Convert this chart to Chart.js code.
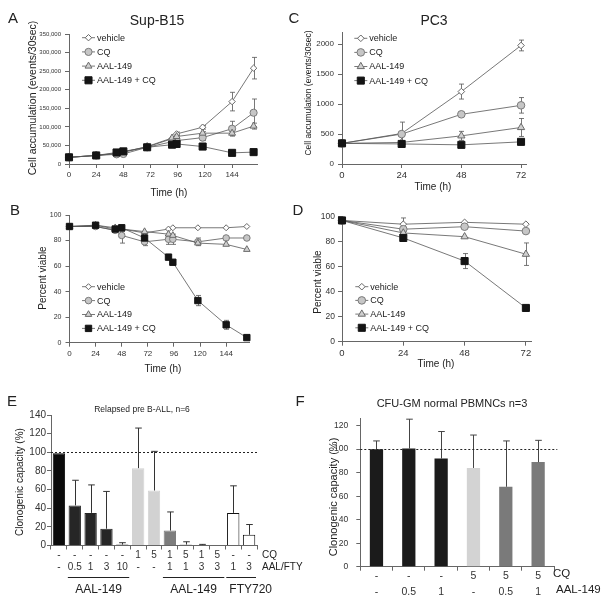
<!DOCTYPE html>
<html>
<head>
<meta charset="utf-8">
<script src="https://cdn.jsdelivr.net/npm/chart.js@4.4.1/dist/chart.umd.min.js"></script>
<style>
  html, body { margin: 0; padding: 0; background: #fff; }
  #page { position: relative; width: 612px; height: 604px; overflow: hidden;
          font-family: "Liberation Sans", Arial, sans-serif; color: #222; }
  #page canvas { position: absolute; left: 0; top: 0; }
  .t { position: absolute; white-space: nowrap; line-height: 1; transform: translate(-50%, -50%); }
  .v { transform: translate(-50%, -50%) rotate(-90deg); }
  .l { transform: translate(0, -50%); }
</style>
</head>
<body>
<div id="page">
  <canvas id="chartA" width="612" height="604"></canvas>
  <canvas id="chartB" width="612" height="604"></canvas>
  <canvas id="chartC" width="612" height="604"></canvas>
  <canvas id="chartD" width="612" height="604"></canvas>
  <canvas id="chartE" width="612" height="604"></canvas>
  <canvas id="chartF" width="612" height="604"></canvas>

  <div class="t" style="left:13px;top:17px;font-size:15px">A</div>
  <div class="t" style="left:157px;top:20px;font-size:14px">Sup-B15</div>
  <div class="t v" style="left:32px;top:98px;font-size:10.5px">Cell accumulation (events/30sec)</div>
  <div class="t" style="left:169px;top:193px;font-size:10px">Time (h)</div>

  <div class="t" style="left:294px;top:17px;font-size:15px">C</div>
  <div class="t" style="left:434px;top:20px;font-size:14px">PC3</div>
  <div class="t v" style="left:308px;top:93px;font-size:8.5px">Cell accumulation (events/30sec)</div>
  <div class="t" style="left:433px;top:187px;font-size:10px">Time (h)</div>

  <div class="t" style="left:15px;top:209px;font-size:15px">B</div>
  <div class="t v" style="left:43px;top:278px;font-size:10px">Percent viable</div>
  <div class="t" style="left:163px;top:369px;font-size:10px">Time (h)</div>

  <div class="t" style="left:298px;top:209px;font-size:15px">D</div>
  <div class="t v" style="left:318px;top:282px;font-size:10px">Percent viable</div>
  <div class="t" style="left:436px;top:364px;font-size:10px">Time (h)</div>

  <div class="t" style="left:12px;top:400px;font-size:15px">E</div>
  <div class="t" style="left:142px;top:409px;font-size:8.5px">Relapsed pre B-ALL, n=6</div>
  <div class="t v" style="left:20px;top:482px;font-size:10px">Clonogenic capacity (%)</div>
  <div class="t l" style="left:262px;top:555px;font-size:10px">CQ</div>
  <div class="t l" style="left:262px;top:567px;font-size:10px">AAL/FTY</div>

  <div class="t" style="left:300px;top:400px;font-size:15px">F</div>
  <div class="t" style="left:452px;top:403px;font-size:11px">CFU-GM normal PBMNCs n=3</div>
  <div class="t v" style="left:333px;top:497px;font-size:11px">Clonogenic capacity (%)</div>
  <div class="t l" style="left:553px;top:574px;font-size:11.5px">CQ</div>
  <div class="t l" style="left:556px;top:590px;font-size:11.5px">AAL-149</div>
</div>

<script>
// ---- data ----
const seriesNames = ["vehicle", "CQ", "AAL-149", "AAL-149 + CQ"];

// tick labels
const timeTicksAB = [0, 24, 48, 72, 96, 120, 144];
const timeTicksCD = [0, 24, 48, 72];
const cellTicksA = [0, 50000, 100000, 150000, 200000, 250000, 300000, 350000];
const cellTicksC = [0, 500, 1000, 1500, 2000];
const viableTicks = [0, 20, 40, 60, 80, 100];
const capacityTicksE = [0, 20, 40, 60, 80, 100, 120, 140];
const capacityTicksF = [0, 20, 40, 60, 80, 100, 120];

// A / B: Sup-B15 time course (h)
const timesAB = [0, 24, 42, 48, 69, 91, 95, 118, 144, 163];
const vehicleA = [18000, 23000, 28000, 32000, 46000, 68000, 81000, 99000, 168000, 258000];
const cqA = [18000, 23000, 26000, 27000, 45000, 60000, 63000, 71000, 95000, 138000];
const aalA = [18000, 23000, 29000, 32000, 47000, 70000, 74000, 83000, 83000, 102000];
const comboA = [18000, 23000, 31000, 34000, 45000, 52000, 54000, 47000, 30000, 32000];
const vehicleAErr = [0, 0, 0, 0, 0, 4000, 5000, 5000, 25000, 29000];
const cqAErr = [0, 0, 0, 0, 0, 5000, 5000, 8000, 20000, 37000];
const aalAErr = [0, 0, 0, 0, 0, 4000, 4000, 4000, 6000, 8000];
const comboAErr = [0, 0, 0, 0, 0, 0, 0, 0, 0, 0];

const vehicleB = [91, 91, 88, 89, 86, 89, 90, 90, 90, 91];
const cqB = [91, 91, 88, 84, 79, 81, 81, 79, 82, 82];
const aalB = [91, 92, 90, 89, 87, 85, 84, 78, 77, 73];
const comboB = [91, 92, 89, 90, 82, 67, 63, 33, 14, 4];
const vehicleBErr = [0, 0, 0, 2, 0, 0, 0, 0, 0, 0];
const cqBErr = [0, 0, 0, 6, 3, 4, 4, 3, 0, 0];
const aalBErr = [0, 0, 0, 0, 0, 0, 0, 0, 0, 0];
const comboBErr = [0, 0, 0, 0, 0, 0, 0, 4, 3.5, 0];

// C / D: PC3 time course (h)
const timesCD = [0, 24, 48, 72];
const vehicleC = [345, 510, 1210, 1980];
const cqC = [345, 500, 830, 980];
const aalC = [345, 360, 470, 610];
const comboC = [345, 335, 320, 370];
const vehicleCErr = [0, 190, 125, 90];
const cqCErr = [0, 0, 0, 130];
const aalCErr = [0, 0, 75, 150];
const comboCErr = [0, 0, 0, 0];

const vehicleD = [97, 94, 95.5, 94];
const cqD = [97, 90, 92, 88.5];
const aalD = [97, 87, 84, 70];
const comboD = [97, 83, 64.5, 27];
const vehicleDErr = [0, 5, 0, 0];
const cqDErr = [0, 0, 0, 0];
const aalDErr = [0, 0, 0, 9];
const comboDErr = [0, 0, 6, 2];

// E: relapsed pre B-ALL colony assay
const cqDoseE = ["-", "-", "-", "-", "-", "1", "5", "1", "5", "1", "5", "-", "-"];
const drugDoseE = ["-", "0.5", "1", "3", "10", "-", "-", "1", "1", "3", "3", "1", "3"];
const capacityE = [99, 43, 35, 18, 1, 83, 59, 16, 1, 0.5, 0, 35, 11.5];
const capacityEErr = [0, 27, 30, 40, 2, 43, 42, 20, 3, 0.7, 0, 29, 11];
const groupLabelsE = ["AAL-149", "AAL-149", "FTY720"];
const groupStartE = [1, 7, 11];
const groupEndE = [4, 10, 12];

// F: CFU-GM normal PBMNCs
const cqDoseF = ["-", "-", "-", "5", "5", "5"];
const aalDoseF = ["-", "0.5", "1", "-", "0.5", "1"];
const capacityF = [100, 100.5, 92, 84, 68, 89];
const capacityFErr = [7, 25, 23, 28, 39, 18.5];

// ---- styles ----
const FONT = '"Liberation Sans", Arial, sans-serif';
const AXIS = "#666";
const TEXT = "#333";
const barColorsE = ["#0b0b0b", "#262626", "#262626", "#262626", "#262626", "#d2d2d2", "#d2d2d2",
  "#7d7d7d", "#7d7d7d", "#7d7d7d", "#7d7d7d", "#ffffff", "#ffffff"];
const barBordersE = barColorsE.map((c) => (c === "#ffffff" ? "#111" : c));
const barColorsF = ["#1b1b1b", "#1b1b1b", "#1b1b1b", "#d3d3d3", "#7a7a7a", "#7a7a7a"];

Chart.defaults.font.family = FONT;
Chart.defaults.color = TEXT;
Chart.defaults.animation = false;
Chart.defaults.responsive = false;
Chart.defaults.plugins.legend.display = false;
Chart.defaults.plugins.tooltip.enabled = false;

// Build padding so the plot area lands on the given page rectangle.
const Y_W = 40;
const X_H = 30;
function layoutFor(box) {
  return {
    padding: {
      left: box.left - Y_W,
      top: box.top,
      right: 612 - box.right,
      bottom: 604 - box.bottom - X_H,
    },
  };
}

function pts(times, vals) {
  return times.map((t, i) => ({ x: t, y: vals[i] }));
}

function fixedTicks(values) {
  return (s) => { s.ticks = values.map((v) => ({ value: v })); };
}

// error bars, drawn through the chart's own y scale
const errorBars = {
  id: "errorBars",
  beforeDatasetsDraw(chart, args, opts) {
    if (!opts.upOnly) drawErrors(chart, opts);
  },
  afterDatasetsDraw(chart, args, opts) {
    if (opts.upOnly) drawErrors(chart, opts);
  },
};
function drawErrors(chart, opts) {
  if (!opts.errors) return;
  const ctx = chart.ctx;
  const yScale = chart.scales.y;
  ctx.save();
  ctx.strokeStyle = opts.color || "#555";
  ctx.lineWidth = opts.width || 0.8;
  opts.errors.forEach((errs, di) => {
    const meta = chart.getDatasetMeta(di);
    const ds = chart.data.datasets[di];
    meta.data.forEach((el, i) => {
      const e = errs[i];
      if (!e) return;
      const raw = ds.data[i];
      const v = typeof raw === "object" ? raw.y : raw;
      const x = Math.round(el.x) + 0.5;
      const top = yScale.getPixelForValue(v + e);
      const bottom = opts.upOnly ? yScale.getPixelForValue(v) : yScale.getPixelForValue(v - e);
      const cap = opts.cap || 2.5;
      ctx.beginPath();
      ctx.moveTo(x, top);
      ctx.lineTo(x, bottom);
      ctx.moveTo(x - cap, top);
      ctx.lineTo(x + cap, top);
      if (!opts.upOnly) {
        ctx.moveTo(x - cap, bottom);
        ctx.lineTo(x + cap, bottom);
      }
      ctx.stroke();
    });
  });
  ctx.restore();
}

// legend drawn inside the plot: short line with the marker on it, then the name
const inlineLegend = {
  id: "inlineLegend",
  afterDraw(chart, args, opts) {
    if (!opts.x) return;
    const ctx = chart.ctx;
    ctx.save();
    seriesNames.forEach((name, i) => {
      const ds = chart.data.datasets[i];
      const y = opts.y + i * opts.gap;
      ctx.strokeStyle = ds.borderColor;
      ctx.lineWidth = 0.8;
      ctx.beginPath();
      ctx.moveTo(opts.x, y);
      ctx.lineTo(opts.x + 13, y);
      ctx.stroke();
      ctx.fillStyle = ds.pointBackgroundColor;
      ctx.strokeStyle = ds.pointBorderColor;
      ctx.lineWidth = 1;
      Chart.helpers.drawPoint(ctx, { pointStyle: ds.pointStyle, radius: ds.pointRadius, rotation: 0, borderWidth: 1 },
        opts.x + 6.5, y);
      ctx.fillStyle = "#222";
      ctx.font = "9px " + FONT;
      ctx.textBaseline = "middle";
      ctx.fillText(name, opts.x + 15, y + 0.5);
    });
    ctx.restore();
  },
};

// dotted 100% reference line
const refLine = {
  id: "refLine",
  afterDatasetsDraw(chart, args, opts) {
    if (opts.value === undefined) return;
    const ctx = chart.ctx;
    const y = Math.round(chart.scales.y.getPixelForValue(opts.value)) + 0.5;
    ctx.save();
    ctx.strokeStyle = "#222";
    ctx.lineWidth = 1;
    ctx.setLineDash([2, 2]);
    ctx.beginPath();
    ctx.moveTo(chart.chartArea.left, y);
    ctx.lineTo(chart.chartArea.right + (opts.extra || 0), y);
    ctx.stroke();
    ctx.restore();
  },
};

// underlines and names for groups of bars (panel E)
const groupLines = {
  id: "groupLines",
  afterDraw(chart, args, opts) {
    if (!opts.labels) return;
    const xs = chart.scales.x;
    const ctx = chart.ctx;
    const half = (xs.getPixelForValue(1) - xs.getPixelForValue(0)) / 2;
    ctx.save();
    ctx.strokeStyle = "#222";
    ctx.lineWidth = 1;
    ctx.fillStyle = "#222";
    ctx.font = "12px " + FONT;
    ctx.textBaseline = "middle";
    opts.labels.forEach((label, i) => {
      const x1 = xs.getPixelForValue(opts.start[i]) - half + 1;
      const x2 = xs.getPixelForValue(opts.end[i]) + half - 1;
      ctx.beginPath();
      ctx.moveTo(x1, opts.lineY + 0.5);
      ctx.lineTo(x2, opts.lineY + 0.5);
      ctx.stroke();
      if (i === opts.labels.length - 1) {
        ctx.textAlign = "left";
        ctx.fillText(label, x1 + 3, opts.textY);
      } else {
        ctx.textAlign = "center";
        ctx.fillText(label, (x1 + x2) / 2, opts.textY);
      }
    });
    ctx.restore();
  },
};

Chart.register(errorBars, inlineLegend, refLine, groupLines);

function lineSets(vals, radii) {
  const kinds = [
    { pointStyle: "rectRot", bg: "#ffffff", border: "#666" },
    { pointStyle: "circle", bg: "#c6c6c6", border: "#7a7a7a" },
    { pointStyle: "triangle", bg: "#d0d0d0", border: "#6a6a6a" },
    { pointStyle: "rect", bg: "#141414", border: "#141414" },
  ];
  return vals.map((data, i) => ({
    label: seriesNames[i],
    data: data,
    order: 3 - i,
    borderColor: "#555",
    borderWidth: 0.8,
    pointStyle: kinds[i].pointStyle,
    pointRadius: radii[i],
    pointBackgroundColor: kinds[i].bg,
    pointBorderColor: kinds[i].border,
    pointBorderWidth: 1,
    clip: false,
  }));
}

function axisGrid() {
  return { display: true, drawOnChartArea: false, drawTicks: true, tickLength: 4, color: AXIS };
}

function timeChart(id, box, times, series, errors, yOpts, xOpts, tickSize, legendPos, radii) {
  new Chart(document.getElementById(id), {
    type: "line",
    data: { datasets: lineSets(series.map((s) => pts(times, s)), radii) },
    options: {
      layout: layoutFor(box),
      scales: {
        x: {
          type: "linear",
          min: 0,
          max: xOpts.max,
          grid: axisGrid(),
          border: { color: AXIS, width: 1 },
          ticks: { font: { size: tickSize.x }, padding: 2, maxRotation: 0, autoSkip: false },
          afterBuildTicks: fixedTicks(xOpts.ticks),
          afterFit: (s) => { s.height = X_H; },
        },
        y: {
          min: 0,
          max: yOpts.max,
          grid: axisGrid(),
          border: { color: AXIS, width: 1 },
          ticks: {
            font: { size: tickSize.y },
            padding: yOpts.pad,
            autoSkip: false,
            callback: (v) => (yOpts.comma ? v.toLocaleString("en-US") : String(v)),
          },
          afterBuildTicks: fixedTicks(yOpts.ticks),
          afterFit: (s) => { s.width = Y_W; },
        },
      },
      plugins: {
        errorBars: { errors: errors, color: "#555", width: 0.8, cap: 2.5 },
        inlineLegend: legendPos,
      },
    },
  });
}

timeChart("chartA", { left: 69, top: 34, right: 257, bottom: 164 }, timesAB,
  [vehicleA, cqA, aalA, comboA], [vehicleAErr, cqAErr, aalAErr, comboAErr],
  { max: 350000, ticks: cellTicksA, pad: 4, comma: true }, { max: 166, ticks: timeTicksAB }, { x: 8, y: 6 },
  { x: 82, y: 37.7, gap: 14.2 }, [3.2, 3.6, 4, 5]);

timeChart("chartB", { left: 69.5, top: 215, right: 249, bottom: 342.7 }, timesAB,
  [vehicleB, cqB, aalB, comboB], [vehicleBErr, cqBErr, aalBErr, comboBErr],
  { max: 100, ticks: viableTicks, pad: 4 }, { max: 165, ticks: timeTicksAB }, { x: 8, y: 7 },
  { x: 82, y: 286.7, gap: 13.9 }, [3, 3.3, 3.8, 4.5]);

timeChart("chartC", { left: 342, top: 32.3, right: 526, bottom: 164 }, timesCD,
  [vehicleC, cqC, aalC, comboC], [vehicleCErr, cqCErr, aalCErr, comboCErr],
  { max: 2200, ticks: cellTicksC, pad: 4 }, { max: 74, ticks: timeTicksCD }, { x: 9.5, y: 8 },
  { x: 354.3, y: 38.3, gap: 14.1 }, [3.3, 3.8, 4.2, 5]);

timeChart("chartD", { left: 342, top: 216.7, right: 531, bottom: 341.7 }, timesCD,
  [vehicleD, cqD, aalD, comboD], [vehicleDErr, cqDErr, aalDErr, comboDErr],
  { max: 100, ticks: viableTicks, pad: 3 }, { max: 74, ticks: timeTicksCD }, { x: 9.5, y: 8.5 },
  { x: 355.3, y: 286.7, gap: 13.7 }, [3.3, 3.8, 4.2, 5]);

// panel E
new Chart(document.getElementById("chartE"), {
  type: "bar",
  data: {
    labels: cqDoseE.map((c, i) => [c, drugDoseE[i]]),
    datasets: [{
      data: capacityE,
      backgroundColor: barColorsE,
      borderColor: barBordersE,
      borderWidth: 1,
      categoryPercentage: 1,
      barPercentage: 0.78,
    }],
  },
  options: {
    layout: layoutFor({ left: 51, top: 415, right: 257, bottom: 545.5 }),
    scales: {
      x: {
        grid: Object.assign(axisGrid(), { offset: true }),
        border: { color: AXIS, width: 1 },
        ticks: { font: { size: 10, lineHeight: 1.2 }, padding: 0, maxRotation: 0, autoSkip: false },
        afterFit: (s) => { s.height = X_H; },
      },
      y: {
        min: 0,
        max: 140,
        grid: axisGrid(),
        border: { color: AXIS, width: 1 },
        ticks: { font: { size: 10 }, padding: 1, autoSkip: false },
        afterBuildTicks: fixedTicks(capacityTicksE),
        afterFit: (s) => { s.width = Y_W; },
      },
    },
    plugins: {
      errorBars: { errors: [capacityEErr], upOnly: true, color: "#333", width: 1, cap: 3.3 },
      refLine: { value: 100, extra: 0 },
      groupLines: { labels: groupLabelsE, start: groupStartE, end: groupEndE, lineY: 577, textY: 590 },
    },
  },
});

// panel F
new Chart(document.getElementById("chartF"), {
  type: "bar",
  data: {
    labels: cqDoseF.map((c, i) => [c, aalDoseF[i]]),
    datasets: [{
      data: capacityF,
      backgroundColor: barColorsF,
      borderWidth: 0,
      categoryPercentage: 1,
      barPercentage: 0.41,
    }],
  },
  options: {
    layout: layoutFor({ left: 360.3, top: 418, right: 554.3, bottom: 566.7 }),
    scales: {
      x: {
        grid: Object.assign(axisGrid(), { offset: true }),
        border: { color: AXIS, width: 1 },
        ticks: { font: { size: 10.5, lineHeight: 1.5 }, padding: -2, maxRotation: 0, autoSkip: false },
        afterFit: (s) => { s.height = X_H; },
      },
      y: {
        min: 0,
        max: 126.5,
        grid: axisGrid(),
        border: { color: AXIS, width: 1 },
        ticks: { font: { size: 8.5 }, padding: 8, autoSkip: false },
        afterBuildTicks: fixedTicks(capacityTicksF),
        afterFit: (s) => { s.width = Y_W; },
      },
    },
    plugins: {
      errorBars: { errors: [capacityFErr], upOnly: true, color: "#444", width: 1, cap: 3.3 },
      refLine: { value: 100, extra: 3 },
    },
  },
});
</script>
</body>
</html>
